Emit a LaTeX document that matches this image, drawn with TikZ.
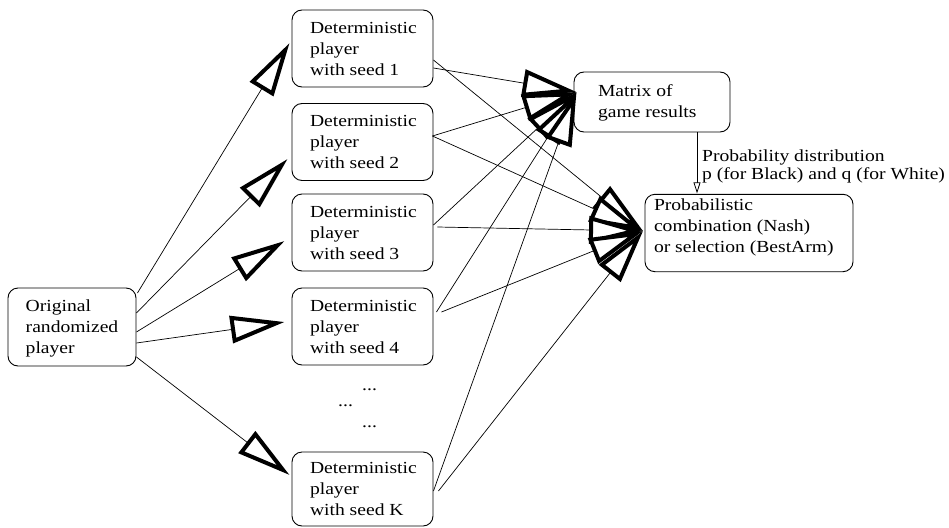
\documentclass[tikz,border=0pt]{standalone}
\usepackage{fontspec}
\setmainfont{Liberation Serif}[FakeStretch=1.16]
\usetikzlibrary{arrows.meta,calc}
\newcommand\LL[2]{\raisebox{0pt}[\height][#1]{#2}}
\begin{document}
\begin{tikzpicture}[x=1pt,y=-1pt,
  box/.style={draw, line width=0.9pt, rounded corners=10pt, align=left, inner sep=0pt,
     font=\fontsize{16.9}{21}\selectfont},
  dbox/.style={box, minimum width=141pt, minimum height=77pt},
  txt/.style={inner sep=0pt, font=\fontsize{16.9}{21}\selectfont},
  conn/.style={line width=0.7pt},
  bigarr/.style={conn, -{Triangle[fill=white, length=54pt, width=27pt, line width=4pt]}},
  smallarr/.style={conn, -{Triangle[fill=white, length=11pt, width=7pt, line width=0.8pt]}}
]
\useasboundingbox (0,0) rectangle (949,527);

% boxes
\node[box, minimum width=128pt, minimum height=78pt] (orig) at (72,327)
  {Original\\randomized\\\LL{-0.5pt}{player}};
\node[dbox] (d1) at (362.5,48.5)
  {\makebox[105pt][l]{Deterministic}\\player\\\LL{-1.5pt}{with seed 1}};
\node[dbox] (d2) at (362.5,142)
  {\makebox[105pt][l]{Deterministic}\\player\\\LL{-1.5pt}{with seed 2}};
\node[dbox] (d3) at (362.5,232.5)
  {\makebox[105pt][l]{Deterministic}\\player\\\LL{-1.5pt}{with seed 3}};
\node[dbox] (d4) at (362.5,326.5)
  {\makebox[105pt][l]{Deterministic}\\player\\\LL{-1.5pt}{with seed 4}};
\node[dbox, minimum height=74pt] (dK) at (362.5,489)
  {\makebox[105pt][l]{Deterministic}\\player\\\LL{-6pt}{with seed K}};
\node[box, minimum width=156pt, minimum height=60pt] (mat) at (652,102)
  {Matrix of\\\LL{2.5pt}{\makebox[108pt][l]{game results}}};
\node[box, minimum width=208pt, minimum height=77.4pt] (prob) at (749,233)
  {Probabilistic\\combination (Nash)\\\LL{14.1pt}{\makebox[190pt][l]{or selection (BestArm)}}};

% texts
\node[txt, anchor=north west, align=left, font=\fontsize{16.9}{18.5}\selectfont] (lbl) at (702,149.5)
  {Probability distribution\\p (for Black) and q (for White)};
\node[txt, anchor=base west] (dots1) at (362,390.5) {...};
\node[txt, anchor=base west] (dots2) at (338,406.5) {...};
\node[txt, anchor=base west] (dots3) at (362,427.5) {...};

% tips
\coordinate (mtip) at ($(mat.west)+(3,-10)$);
\coordinate (ptip) at ($(prob.west)+(-1.5,-2)$);

% original -> deterministic
\draw[bigarr] ($(orig.east)+(1,-34)$) -- ($(d1.west)+(-2,-5.5)$);
\draw[bigarr] ($(orig.east)+(0,-14)$) -- ($(d2.west)+(-4,17)$);
\draw[bigarr] ($(orig.east)+(0,5)$) -- ($(d3.west)+(-7,8.5)$);
\draw[bigarr] ($(orig.east)+(0,16)$) -- ($(d4.west)+(-7,-4.5)$);
\draw[bigarr] ($(orig.east)+(0,30)$) -- ($(dK.west)+(-2,-14)$);

% deterministic -> matrix
\draw[bigarr] ($(d1.east)+(0,19.5)$) -- (mtip);
\draw[bigarr] ($(d2.east)+(-1,-6)$) -- (mtip);
\draw[bigarr] ($(d3.east)+(0,-7.5)$) -- (mtip);
\draw[bigarr] ($(d4.east)+(3,-14.5)$) -- (mtip);
\draw[bigarr] ($(dK.east)+(0,2)$) -- (mtip);

% deterministic -> probabilistic
\draw[bigarr] ($(d1.east)+(0,11.5)$) -- (ptip);
\draw[bigarr] ($(d2.east)+(-1,-6)$) -- (ptip);
\draw[bigarr] ($(d3.east)+(4,-5.5)$) -- (ptip);
\draw[bigarr] ($(d4.east)+(8,-14.5)$) -- (ptip);
\draw[bigarr] ($(dK.east)+(5,2)$) -- (ptip);

% matrix -> probabilistic
\draw[smallarr] ($(mat.south)+(45,0)$) -- ($(prob.north)+(-52,-0.5)$);
\end{tikzpicture}
\end{document}
